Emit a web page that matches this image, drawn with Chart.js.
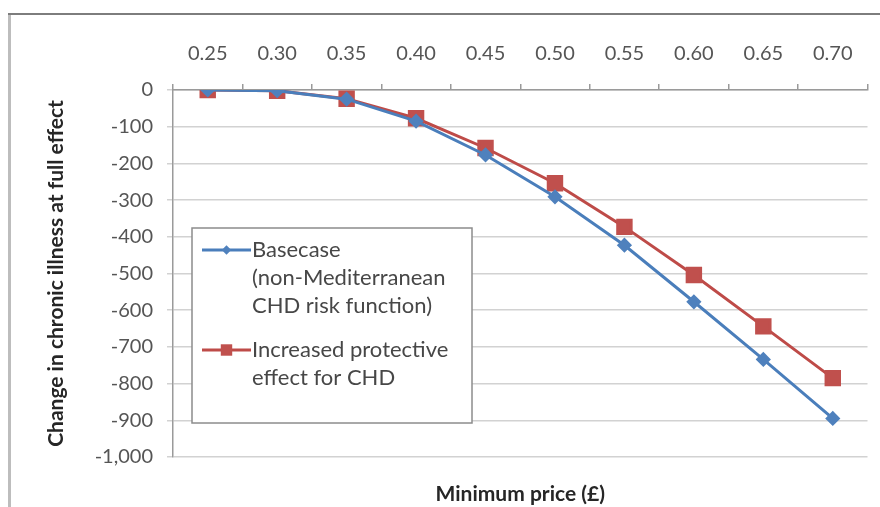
<!DOCTYPE html>
<html>
<head>
<meta charset="utf-8">
<script src="https://cdn.jsdelivr.net/npm/chart.js@4/dist/chart.umd.min.js"></script>
<style>
  html, body { margin: 0; padding: 0; background: #ffffff; }
  #wrap { position: relative; width: 880px; height: 507px; }
  canvas { display: block; }
</style>
</head>
<body>
<div id="wrap"><canvas id="c" width="880" height="507"></canvas></div>
<script>
// ---- data ----
const categories = ['0.25', '0.30', '0.35', '0.40', '0.45', '0.50', '0.55', '0.60', '0.65', '0.70'];
const basecaseValues = [0, -2, -25, -85, -177, -291, -423, -577, -734, -895];
const protectiveValues = [0, -2, -24, -77, -158, -254, -373, -504, -644, -785];
const basecaseLegend = ['Basecase', '(non-Mediterranean', 'CHD risk function)'];
const protectiveLegend = ['Increased protective', 'effect for CHD'];
const yTitle = 'Change in chronic illness at full effect';
const xTitle = 'Minimum price (£)';

const FONT = 'Lato, "Open Sans", sans-serif';
const BLUE = '#4A7EBB';
const RED = '#BE4B48';

const framePlugin = {
  id: 'frame',
  beforeDraw(chart) {
    const ctx = chart.ctx;
    ctx.save();
    ctx.fillStyle = '#ffffff';
    ctx.fillRect(0, 0, chart.width, chart.height);
    ctx.strokeStyle = '#bdbdbd';
    ctx.lineWidth = 3;
    ctx.beginPath();
    ctx.moveTo(9.5, 14);
    ctx.lineTo(9.5, chart.height);
    ctx.stroke();
    ctx.strokeStyle = '#7d7d7d';
    ctx.lineWidth = 2;
    ctx.beginPath();
    ctx.moveTo(8, 14);
    ctx.lineTo(chart.width, 14);
    ctx.stroke();
    ctx.restore();
  }
};

const boxLegendPlugin = {
  id: 'boxLegend',
  afterDraw(chart) {
    const ctx = chart.ctx;
    const a = chart.chartArea;
    const x0 = a.left + 19, y0 = a.top + 138, w = 280, h = 195;
    ctx.save();
    ctx.fillStyle = '#ffffff';
    ctx.fillRect(x0, y0, w, h);
    ctx.strokeStyle = '#8c8c8c';
    ctx.lineWidth = 1.5;
    ctx.strokeRect(x0, y0, w, h);
    ctx.font = '22px ' + FONT;
    ctx.textBaseline = 'middle';
    ctx.textAlign = 'left';
    const entries = [
      { lines: basecaseLegend, ds: chart.data.datasets[0], y: y0 + 22 },
      { lines: protectiveLegend, ds: chart.data.datasets[1], y: y0 + 122 }
    ];
    const lh = 28;
    entries.forEach(e => {
      const sx = x0 + 10, ex = x0 + 59, cx = (sx + ex) / 2;
      ctx.strokeStyle = e.ds.borderColor;
      ctx.lineWidth = 3;
      ctx.beginPath();
      ctx.moveTo(sx, e.y);
      ctx.lineTo(ex, e.y);
      ctx.stroke();
      ctx.fillStyle = e.ds.pointBackgroundColor;
      ctx.beginPath();
      const r = e.ds.pointRadius * 0.85;
      if (e.ds.pointStyle === 'rect') {
        const s = r * Math.SQRT1_2;
        ctx.rect(cx - s, e.y - s, 2 * s, 2 * s);
      } else {
        ctx.moveTo(cx - r, e.y);
        ctx.lineTo(cx, e.y - r);
        ctx.lineTo(cx + r, e.y);
        ctx.lineTo(cx, e.y + r);
        ctx.closePath();
      }
      ctx.fill();
      ctx.fillStyle = '#474747';
      e.lines.forEach((t, i) => ctx.fillText(t, ex + 1, e.y + i * lh));
    });
    ctx.restore();
  }
};

new Chart(document.getElementById('c'), {
  type: 'line',
  data: {
    labels: categories,
    datasets: [
      {
        label: basecaseLegend.join(' '),
        data: basecaseValues,
        borderColor: BLUE,
        backgroundColor: BLUE,
        pointBackgroundColor: '#4F81BD',
        pointBorderColor: '#4F81BD',
        pointStyle: 'rectRot',
        pointRadius: 5.5,
        borderWidth: 3,
        tension: 0,
        xAxisID: 'x',
        yAxisID: 'y'
      },
      {
        label: protectiveLegend.join(' '),
        data: protectiveValues,
        borderColor: RED,
        backgroundColor: RED,
        pointBackgroundColor: '#C0504D',
        pointBorderColor: '#C0504D',
        pointStyle: 'rect',
        pointRadius: 9.5,
        borderWidth: 3,
        tension: 0,
        xAxisID: 'x',
        yAxisID: 'y'
      }
    ]
  },
  options: {
    responsive: false,
    animation: false,
    layout: { padding: { left: 36, right: 10, top: 14, bottom: 0 } },
    plugins: {
      legend: { display: false },
      tooltip: { enabled: false },
      title: { display: false }
    },
    scales: {
      x: {
        type: 'category',
        position: 'top',
        offset: true,
        grid: { offset: true, drawOnChartArea: false, drawTicks: true, tickLength: 6, color: '#9a9a9a', lineWidth: 1.5 },
        border: { color: '#9a9a9a', width: 1.5 },
        ticks: { color: '#555555', font: { family: FONT, size: 20 }, padding: 18, maxRotation: 0 },
        afterFit(s) { s.height = 76; }
      },
      x2: {
        type: 'category',
        position: 'bottom',
        grid: { display: false },
        border: { display: false },
        ticks: { display: false },
        title: { display: true, text: xTitle, color: '#262626', font: { family: FONT, size: 21, weight: 'bold' }, padding: { top: 6, bottom: 0 } },
        afterFit(s) { s.height = 50; }
      },
      y: {
        min: -1000,
        max: 0,
        ticks: { stepSize: 100, color: '#555555', font: { family: FONT, size: 20 }, padding: 14 },
        grid: { color: '#d2d2d2', lineWidth: 1.5, tickLength: 6, drawTicks: true },
        border: { color: '#9a9a9a', width: 1.5 },
        title: { display: true, text: yTitle, color: '#262626', font: { family: FONT, size: 21, weight: 'bold' }, padding: { top: 8, bottom: 0 } },
        afterFit(s) { s.width = 137; }
      }
    }
  },
  plugins: [framePlugin, boxLegendPlugin]
});
</script>
</body>
</html>
